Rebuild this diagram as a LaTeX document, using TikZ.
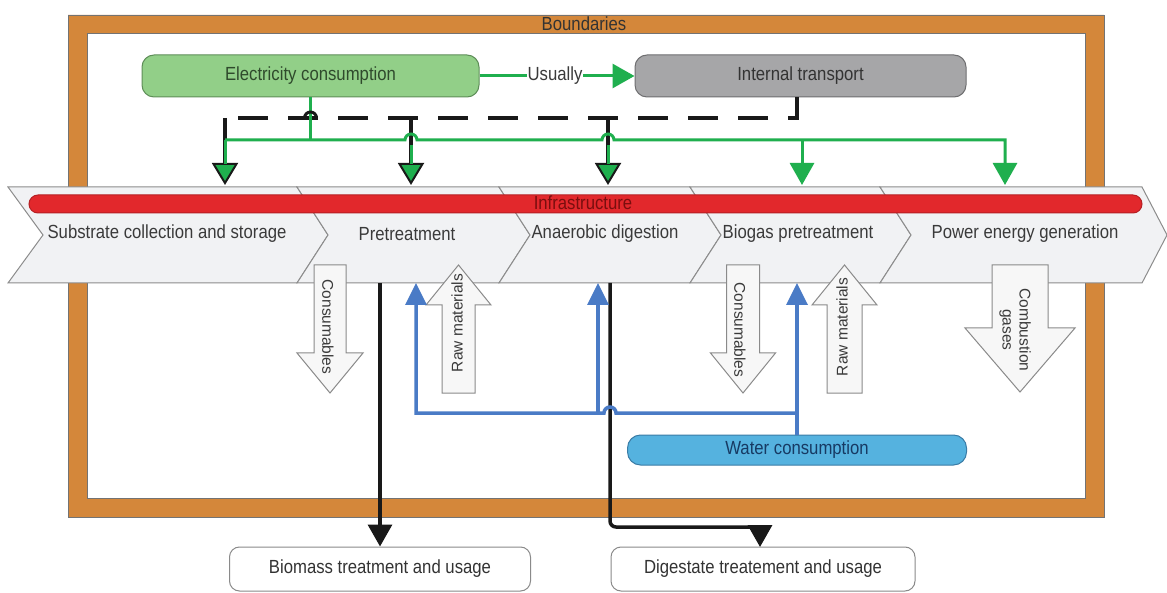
\documentclass[tikz,border=0pt]{standalone}
\usepackage{fontspec}
\setmainfont{Liberation Sans}[FakeStretch=0.88]
\newfontfamily\rotfont{Liberation Sans}
\usetikzlibrary{arrows.meta}
\definecolor{orangeb}{HTML}{D4873A}
\definecolor{chevfill}{HTML}{F1F2F4}
\definecolor{chevdraw}{HTML}{8C8C8C}
\definecolor{redbar}{HTML}{E2282C}
\definecolor{reddraw}{HTML}{B52024}
\definecolor{redtext}{HTML}{7A0E0E}
\definecolor{elecfill}{HTML}{92CF88}
\definecolor{elecdraw}{HTML}{5E8E58}
\definecolor{electext}{HTML}{2F4A2C}
\definecolor{intfill}{HTML}{A6A6A8}
\definecolor{intdraw}{HTML}{6E6E70}
\definecolor{wfill}{HTML}{55B2DF}
\definecolor{wdraw}{HTML}{3A7CA6}
\definecolor{wtext}{HTML}{173A63}
\definecolor{ggreen}{HTML}{1FAF4E}
\definecolor{bblue}{HTML}{4A7BC6}
\definecolor{txt}{HTML}{3A3A3A}
\definecolor{hollowfill}{HTML}{F7F7F7}
\definecolor{hollowdraw}{HTML}{8A8A8A}
\newcommand\hollowarrow[6]{%
  \draw[hollow] ({#1-#2},#4) -- ({#1+#2},#4) -- ({#1+#2},#5) -- ({#1+#3},#5) -- (#1,#6) -- ({#1-#3},#5) -- ({#1-#2},#5) -- cycle;}
\tikzset{
  lbl/.style={font=\fontsize{19}{22}\selectfont, text=txt, inner sep=1pt},
  rlbl/.style={font=\rotfont\fontsize{15.5}{17}\selectfont, text=txt, inner sep=1pt, align=center},
  box/.style={lbl, draw, line width=1pt, inner sep=2pt},
  chev/.style={fill=chevfill, draw=chevdraw, line width=1pt},
  hollow/.style={fill=hollowfill, draw=hollowdraw, line width=1pt},
  gline/.style={draw=ggreen, line width=3pt},
  bline/.style={draw=bblue, line width=3.5pt},
  blk/.style={draw=black!90, line width=3.5pt},
  gtip/.style={-{Triangle[length=22pt,width=24pt]}},
  gbtip/.style={-{Triangle[length=22pt,width=26pt,fill=ggreen,line width=2pt]}},
  btip/.style={-{Triangle[length=22pt,width=21pt]}},
  ktip/.style={-{Triangle[length=22pt,width=24pt]}},
}
\begin{document}
\begin{tikzpicture}[x=1pt,y=-1pt]
\useasboundingbox (0,0) rectangle (1167,593);
\fill[white] (0,0) rectangle (1167,593);
% boundaries frame
\draw[fill=orangeb, draw=black!55, line width=0.8pt, even odd rule] (68,15) rectangle (1104,517) (87,33) rectangle (1085,498);
\node[lbl, text=black!80] (bnd) at (584,24) {Boundaries};
% chevrons
\foreach \a/\da/\b/\db in {8/35/297/31, 297/31/499/31, 499/31/690/31, 690/31/880/31, 880/31/1142/25}
  \draw[chev] (\a,187) -- (\b,187) -- ({\b+\db},235) -- (\b,283) -- (\a,283) -- ({\a+\da},235) -- cycle;
\node[draw=reddraw, fill=redbar, line width=1pt, rounded corners=9pt, minimum width=1113pt, minimum height=18pt, inner sep=0pt] (infra) at (585.5,204) {};
\node[lbl, text=redtext] (infratxt) at (583,203) {Infrastructure};
\node[lbl] (s1) at (167,234) {Substrate collection and storage};
\node[lbl] (s2) at (407,234) {Pretreatment};
\node[lbl] (s3) at (605,234) {Anaerobic digestion};
\node[lbl] (s4) at (798,234) {Biogas pretreatment};
\node[lbl] (s5) at (1025,234) {Power energy generation};
% top boxes
\node[box, fill=elecfill, draw=elecdraw, text=electext, rounded corners=12pt, minimum width=337pt, minimum height=42pt] (elec) at (310.5,76) {Electricity consumption};
\node[box, fill=intfill, draw=intdraw, text=black!80, rounded corners=12pt, minimum width=331pt, minimum height=42pt] (intern) at (800.5,76) {Internal transport};
\draw[gline, gtip] (elec.east) -- node[lbl, fill=white, pos=0.487] (usu) {Usually} (intern.west);
% targets
\coordinate (t1) at (225,185);
\coordinate (t2) at (411,185);
\coordinate (t3) at (608,185);
\coordinate (t4) at (802,185);
\coordinate (t5) at (1005,185);
\coordinate (itd) at (797,97);
% dashed internal transport line
\draw[blk, dash pattern=on 30pt off 20pt] (itd) -- (797,118) -- (225,118);
\draw[blk, gbtip] (225,118) -- (t1);
\draw[blk, gbtip] (411,118) -- (t2);
\draw[blk, gbtip] (608,118) -- (t3);
% green electricity network
\draw[gline] (elec.south) -- (310.5,140);
\draw[blk, line width=3pt] (316.5,118) arc[start angle=0, end angle=-180, radius=6];
\draw[gline, gtip] (225,140) -- (405,140) arc[start angle=180, end angle=360, radius=6] -- (602,140) arc[start angle=180, end angle=360, radius=6] -- (1005,140) -- (t5);
\draw[gline, gtip] (802,140) -- (t4);
\draw[gline] (225,140) -- (225,164);
\draw[gline] (411,145) -- (411,164);
\draw[gline] (608,145) -- (608,164);
% hollow arrows
\hollowarrow{330}{16}{33}{265}{353}{393}
\hollowarrow{458.5}{16.5}{32.5}{393}{305}{265}
\hollowarrow{743}{16.5}{32.5}{265}{353}{393}
\hollowarrow{844.5}{17.5}{32.5}{393}{305}{265}
\hollowarrow{1020}{28}{55}{265}{328}{392}
\node[rlbl, rotate=-90] (cons1) at (328,327) {Consumables};
\node[rlbl, rotate=90] (raw1) at (457,323) {Raw materials};
\node[rlbl, rotate=-90] (cons2) at (740,330) {Consumables};
\node[rlbl, rotate=90] (raw2) at (842,327) {Raw materials};
\node[rlbl, rotate=-90] (comb) at (1015,330) {Combustion\\gases};
% water
\node[box, fill=wfill, draw=wdraw, text=wtext, rounded corners=13pt, minimum width=339pt, minimum height=30pt] (water) at (797,450) {Water consumption};
\coordinate (b1) at (416,283);
\coordinate (b2) at (598,283);
\coordinate (b3) at (797,283);
% bottom boxes
\node[box, fill=white, draw=hollowdraw, text=black!80, rounded corners=10pt, minimum width=301pt, minimum height=44pt] (biomass) at (380,569) {Biomass treatment and usage};
\node[box, fill=white, draw=hollowdraw, text=black!80, rounded corners=10pt, minimum width=304pt, minimum height=44pt] (digest) at (763,569) {Digestate treatement and usage};
\coordinate (k1) at (380,283);
\coordinate (k2) at (610,283);
\coordinate (dn) at (760,547);
% black outputs
\draw[blk, ktip] (k1) -- (biomass.north);
\draw[blk, ktip, rounded corners=6pt] (k2) -- (610,527) -- (760,527) -- (dn);
% blue water lines
\draw[bline, btip] (water.north) -- (b3);
\draw[bline, btip] (797,413) -- (616,413) arc[start angle=0, end angle=-180, radius=6] -- (416,413) -- (b1);
\draw[bline, btip] (598,413) -- (b2);
\end{tikzpicture}
\end{document}
